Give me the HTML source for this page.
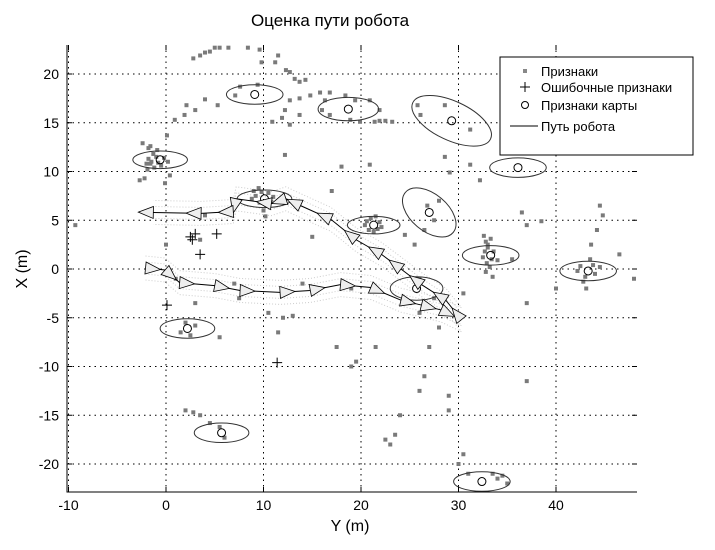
<!DOCTYPE html>
<html><head><meta charset="utf-8"><style>
body{margin:0;background:#fff;}
svg{display:block;font-family:"Liberation Sans",Arial,sans-serif;}
</style></head><body>
<svg id="chart" width="715" height="550" viewBox="0 0 715 550">
<text x="330" y="26" font-size="17" text-anchor="middle">Оценка пути робота</text>
<g id="grid"></g>
<g id="bands"></g>
<g id="feats"></g>
<g id="ells"></g>
<g id="path"></g>
<g id="falses"></g>
<g id="axes"></g>
<text x="350" y="531" font-size="16" text-anchor="middle">Y (m)</text>
<text transform="translate(27,269) rotate(-90)" font-size="16" text-anchor="middle">X (m)</text>
<g>
<rect x="500" y="57" width="193" height="98" fill="#fff" stroke="#000"/>
<g><rect x="523" y="69" width="4" height="4" fill="#888"/><text x="541" y="76" font-size="13">Признаки</text></g>
<g><path d="M520 87h10M525 82v10" stroke="#000"/><text x="541" y="92" font-size="13">Ошибочные признаки</text></g>
<g><circle cx="525" cy="105" r="3.5" fill="none" stroke="#000"/><text x="541" y="110" font-size="13">Признаки карты</text></g>
<g><path d="M510 126h28" stroke="#000"/><text x="541" y="131" font-size="13">Путь робота</text></g>
</g>
</svg>
<script>
const xTicks=[-10,0,10,20,30,40];
const yTicks=[-20,-15,-10,-5,0,5,10,15,20];
const featX=[2.8,3.5,4.0,4.5,5.0,5.5,6.4,8.4,9.6,9.8,11.2,11.5,12.3,12.7,13.2,13.7,14.3,7.6,7.1,9.4,12.7,13.7,14.8,15.8,16.8,16.3,18.4,19.4,20.9,21.9,23.2,22.5,21.9,21.4,19.9,18.9,16.8,16.0,13.7,12.2,11.9,12.7,10.9,12.2,20.9,28.6,31.2,32.2,29.1,31.2,28.6,25.8,26.1,-9.3,-1.9,-1.6,-1.8,-2.4,-2.2,-2.7,0.4,-0.1,0.1,0.9,1.9,3.0,2.1,5.3,4.0,
-1.5,-1.0,-0.8,-0.2,-1.3,-0.5,-1.8,-0.9,-1.6,-1.2,0.2,-2.0,
9.2,9.6,10.5,9.0,10.8,9.8,10.3,8.8,11.0,9.5,10.0,10.2,
20.6,21.0,21.7,20.8,21.9,20.4,21.3,21.5,22.1,
32.6,32.8,33.0,32.7,33.4,32.9,33.2,32.8,33.5,33.0,33.6,32.5,34.0,33.3,
42.5,43.0,43.8,42.8,44.0,43.5,42.2,44.5,43.1,43.6,
44.5,44.8,44.2,46.5,48,36.5,37.0,38.5,35.5,37.0,40.0,30.0,30.5,
26.8,27.5,28.0,26.5,24.5,25.5,26.0,27.5,25.0,28.0,26.0,27.0,26.5,26.0,24.0,23.5,23.0,22.5,19.5,19.0,17.5,13.0,11.5,12.0,10.5,7.0,3.0,2.0,1.5,2.5,3.0,2.0,2.8,3.5,4.5,5.5,6.0,30.0,31.0,33.5,34.0,35.0,34.5,30.5,21.5,19,14,17,18,5.5,7.5,4,3.5,0,1,15,29,29,37.0];
const featY=[21.6,21.9,22.2,22.3,22.7,22.7,22.7,22.7,22.5,21.2,21.2,21.9,20.4,20.2,19.5,19.2,19.4,18.7,17.8,18.9,17.3,17.5,17.8,18.1,18.1,17.3,17.8,17.3,17.3,16.3,15.1,15.2,15.2,15.1,15.1,15.3,15.8,16.3,15.8,16.3,15.5,14.8,15.1,11.7,10.7,11.5,10.7,9.1,9.9,14.3,16.8,16.8,15.8,4.5,10.2,10.8,12.4,12.9,9.3,9.1,9.6,8.8,13.7,15.3,15.8,16.3,16.8,16.8,17.4,
11.0,11.5,10.9,11.4,11.8,10.6,11.3,12.2,12.6,10.4,11.0,10.8,
7.5,6.8,7.8,8.0,6.9,7.9,6.5,7.2,7.4,8.3,6.0,5.4,
4.9,5.2,4.1,4.0,4.8,4.5,3.8,5.4,4.3,
3.4,2.8,2.2,1.8,1.0,0.6,0.2,-0.3,-0.8,2.5,1.8,1.2,0.9,3.1,
0.3,-0.8,0.4,-1.3,-0.5,1.0,-0.2,0.2,-2.0,2.5,
6.5,5.5,4.0,1.5,-1.0,5.8,4.5,4.9,1.0,-3.5,-2.0,-5.0,-2.5,
6.5,5.0,7.0,4.0,3.5,2.5,-1.0,-3.0,-3.5,-6.0,-4.5,-8.0,-11.0,-12.5,-15.0,-17.0,-18.0,-17.5,-9.5,-10.0,-8.0,-4.8,-6.5,-5.0,-4.5,-1.5,-3.5,-5.5,-6.5,-6.8,-5.8,-14.5,-14.7,-15.0,-15.8,-16.2,-17.3,-20.0,-21.0,-21.0,-21.5,-22.0,-21.2,-19.0,-8.0,-2,-1.5,8,10.5,-7.0,-3.0,5.5,3,2.5,-1,3.3,-14.5,-13,-11.5];
const mapX=[9.1,18.7,29.3,-0.6,36.1,10.1,27.0,21.3,33.3,43.3,25.7,2.2,5.7,32.4];
const mapY=[17.9,16.4,15.2,11.2,10.4,7.2,5.8,4.5,1.4,-0.2,-2.0,-6.1,-16.8,-21.8];
const ellRx=[2.9,3.1,4.4,2.8,2.9,2.8,3.2,2.7,2.9,2.9,2.7,2.8,2.8,2.9];
const ellRy=[1.0,1.2,2.0,0.9,1.0,0.9,1.9,0.9,1.0,1.0,1.2,1.0,1.0,1.0];
const ellRot=[0,0,25,0,0,0,40,0,0,0,0,0,0,0];
const falseX=[2.7,2.5,3.0,5.2,3.5,0.1,11.4];
const falseY=[3.0,3.3,3.6,3.6,1.5,-3.7,-9.6];
const pathX=[-2.1,-0.1,1.4,5.0,7.6,11.7,14.8,17.9,21.0,24.1,26.2,28.2,30.3,28.7,26.2,24.1,22.1,19.5,16.9,13.8,12.3,10.8,7.2,6.9,3.6,-1.3];
const pathY=[0.1,-0.1,-1.4,-1.7,-2.2,-2.4,-2.2,-1.6,-1.9,-3.2,-3.7,-4.2,-5.2,-3.2,-1.6,0.0,1.5,3.0,5.1,6.5,7.2,6.7,7.2,5.9,5.7,5.8];
const tri=[0,1,2,3,4,5,6,7,8,9,10,11,12,13,14,15,16,17,18,19,20,21,22,23,24,25];
const NS="http://www.w3.org/2000/svg";
const L=67,R=637,T=45,B=492;
const sx=x=>166+x*9.75, sy=y=>269-y*9.75;
function mk(tag,attrs,parent){const e=document.createElementNS(NS,tag);for(const k in attrs)e.setAttribute(k,attrs[k]);parent.appendChild(e);return e;}
const grid=document.getElementById('grid'),axes=document.getElementById('axes');
xTicks.forEach(t=>{
 const l=mk('line',{x1:sx(t),x2:sx(t),y1:T,y2:B,stroke:'#000','stroke-dasharray':'1.5,4','stroke-width':1},grid);
 
 
 const tx=mk('text',{x:sx(t),y:B+18,'font-size':14,'text-anchor':'middle'},axes);tx.textContent=t;
 
 
 mk('line',{x1:sx(t),x2:sx(t),y1:B,y2:B-5,stroke:'#000'},axes);mk('line',{x1:sx(t),x2:sx(t),y1:T,y2:T+5,stroke:'#000'},axes);
});
yTicks.forEach(t=>{
 const l=mk('line',{x1:L,x2:R,y1:sy(t),y2:sy(t),stroke:'#000','stroke-dasharray':'1.5,4','stroke-width':1},grid);
 
 
 const tx=mk('text',{x:L-8,y:sy(t)+5,'font-size':14,'text-anchor':'end'},axes);tx.textContent=t;
 
 
 mk('line',{x1:L,x2:L+5,y1:sy(t),y2:sy(t),stroke:'#000'},axes);mk('line',{x1:R,x2:R-5,y1:sy(t),y2:sy(t),stroke:'#000'},axes);
});
mk('path',{d:`M${L} ${T}V${B}H${R}`,fill:'none',stroke:'#000'},axes);
const bands=document.getElementById('bands');
[-12,-6,6,12].forEach(o=>{
 const pts=pathX.map((x,i)=>sx(x)+','+(sy(pathY[i])+o)).join(' ');
 const b=mk('polyline',{points:pts,fill:'none',stroke:'#ccc','stroke-dasharray':'1,2'},bands);
 
 
});
const feats=document.getElementById('feats');
featX.forEach((x,i)=>{
 const r=mk('rect',{x:sx(x)-2,y:sy(featY[i])-2,width:4,height:4,fill:'#7a7a7a'},feats);
 
 
});
const ells=document.getElementById('ells');
mapX.forEach((x,i)=>{
 const cx=sx(x),cy=sy(mapY[i]);
 const e=mk('ellipse',{cx:cx,cy:cy,rx:ellRx[i]*9.75,ry:ellRy[i]*9.75,fill:'none',stroke:'#333',transform:`rotate(${ellRot[i]} ${cx} ${cy})`},ells);
 
 
 const c=mk('circle',{cx:cx,cy:cy,r:4,fill:'none',stroke:'#000'},ells);
 
 
});
const pg=document.getElementById('path');
const pl=mk('polyline',{points:pathX.map((x,i)=>sx(x)+','+sy(pathY[i])).join(' '),fill:'none',stroke:'#000','stroke-width':1},pg);


tri.forEach(i=>{
 const j=Math.min(i+1,pathX.length-1),k=j===i?i-1:i;
 const x0=sx(pathX[i]),y0=sy(pathY[i]);
 let dx=sx(pathX[j])-sx(pathX[k]),dy=sy(pathY[j])-sy(pathY[k]);const n=Math.hypot(dx,dy)||1;dx/=n;dy/=n;
 const p=`${x0+dx*15},${y0+dy*15} ${x0-dy*6},${y0+dx*6} ${x0+dy*6},${y0-dx*6}`;
 const t=mk('polygon',{points:p,fill:'#eee',stroke:'#000','stroke-width':0.8},pg);
 
 
});
const fg=document.getElementById('falses');
falseX.forEach((x,i)=>{
 const cx=sx(x),cy=sy(falseY[i]);
 const p=mk('path',{d:`M${cx-5} ${cy}h10M${cx} ${cy-5}v10`,stroke:'#000'},fg);
 
 
});
</script>
</body></html>
